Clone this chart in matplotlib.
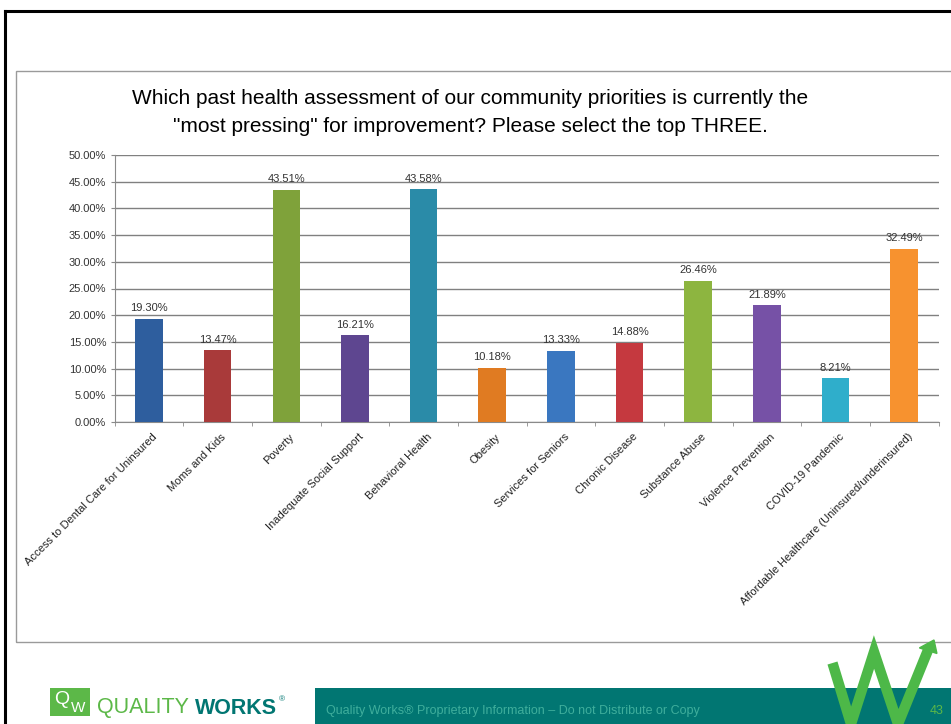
import matplotlib
matplotlib.use("Agg")
import matplotlib.pyplot as plt
from matplotlib import font_manager as fm
from matplotlib.patches import Rectangle, FancyArrow
from matplotlib.lines import Line2D
import matplotlib.transforms as mtransforms
import numpy as np

categories = [
    "Access to Dental Care for Uninsured",
    "Moms and Kids",
    "Poverty",
    "Inadequate Social Support",
    "Behavioral Health",
    "Obesity",
    "Services for Seniors",
    "Chronic Disease",
    "Substance Abuse",
    "Violence Prevention",
    "COVID-19 Pandemic",
    "Affordable Healthcare (Uninsured/underinsured)",
]
values = [19.30, 13.47, 43.51, 16.21, 43.58, 10.18, 13.33, 14.88, 26.46, 21.89, 8.21, 32.49]
colors = ["#2E5E9E", "#A93A3A", "#7FA23A", "#5E4690", "#2A8BA8", "#E07B22",
          "#3A77C0", "#C5393F", "#8DB540", "#7651A6", "#2FAECB", "#F7922F"]
yticks = [0, 5, 10, 15, 20, 25, 30, 35, 40, 45, 50]
title_lines = ["Which past health assessment of our community priorities is currently the",
               "\"most pressing\" for improvement? Please select the top THREE."]

available = {f.name for f in fm.fontManager.ttflist}
narrow = "Liberation Sans Narrow" if "Liberation Sans Narrow" in available else "Liberation Sans"

W, H = 951, 724
fig = plt.figure(figsize=(W / 100, H / 100), dpi=100)
fig.patch.set_facecolor("white")

def fx(x):
    return x / W

def fy(y):
    return 1 - y / H

# slide frame (black)
fig.add_artist(Line2D([fx(5), fx(951)], [fy(11), fy(11)], color="black", lw=2.2, transform=fig.transFigure))
fig.add_artist(Line2D([fx(5), fx(5)], [fy(11), fy(724)], color="black", lw=2.2, transform=fig.transFigure))
# chart area box (gray)
fig.add_artist(Rectangle((fx(16), fy(642)), fx(960) - fx(16), fy(71) - fy(642), transform=fig.transFigure,
                         fill=False, edgecolor="#9a9a9a", lw=1.0))

# axes
left_px, right_px, top_px, bottom_px = 114.6, 938.5, 155, 422
ax = fig.add_axes([fx(left_px), fy(bottom_px), fx(right_px) - fx(left_px), fy(top_px) - fy(bottom_px)])
x = np.arange(len(categories))
bars = ax.bar(x, values, width=0.4, color=colors, zorder=3)
ax.set_xlim(-0.5, len(categories) - 0.5)
ax.set_ylim(0, 50)
ax.set_yticks(yticks)
ax.set_yticklabels([f"{v:.2f}%" for v in yticks], fontsize=8, color="#333333", family="Liberation Sans")
ax.yaxis.grid(True, color="#808080", lw=1.0, zorder=0)
ax.set_axisbelow(True)
for s in ["top", "right"]:
    ax.spines[s].set_visible(False)
ax.spines["left"].set_color("#8a8a8a")
ax.spines["bottom"].set_color("#8a8a8a")
ax.tick_params(axis="y", length=3, color="#8a8a8a", pad=3)
ax.set_xticks(x)
ax.set_xticklabels(categories, rotation=45, ha="right", va="top", rotation_mode="anchor",
                   fontsize=8, color="#222222", family="Liberation Sans")
ax.tick_params(axis="x", length=0, pad=7)
offset = mtransforms.ScaledTranslation(3 / 100, 0, fig.dpi_scale_trans)
for lbl in ax.get_xticklabels():
    lbl.set_transform(lbl.get_transform() + offset)
ax.set_xticks(np.arange(-0.5, len(categories), 1.0), minor=True)
ax.tick_params(axis="x", which="minor", length=3, color="#8a8a8a")

for xi, v in zip(x, values):
    ax.annotate(f"{v:.2f}%", (xi, v), xytext=(0, 4), textcoords="offset points",
                ha="center", va="bottom", fontsize=8, color="#333333", family="Liberation Sans")

# title
fig.text(fx(470), fy(98), title_lines[0], ha="center", va="center", fontsize=15, family=narrow, color="black")
fig.text(fx(470), fy(127), title_lines[1], ha="center", va="center", fontsize=15, family=narrow, color="black")

# footer teal bar
fig.add_artist(Rectangle((fx(315), 0), 1 - fx(315), fy(688), transform=fig.transFigure,
                         facecolor="#017672", edgecolor="none"))
fig.text(fx(326), fy(711), "Quality Works\u00ae Proprietary Information \u2013 Do not Distribute or Copy",
         ha="left", va="center", fontsize=9, family=narrow, color="#3fae9c")
fig.text(fx(937), fy(711), "43", ha="center", va="center", fontsize=9, family=narrow, color="#5cb848")

# W mark
wx = [834, 851, 874, 898, 926]
wy = [668, 724, 652, 724, 655]
fig.add_artist(Line2D([fx(v) for v in wx], [fy(v) for v in wy], color="#4db848", lw=7.5,
                      solid_joinstyle="miter", transform=fig.transFigure))
fig.add_artist(FancyArrow(fx(922), fy(662), fx(934) - fx(922), fy(640) - fy(662), width=0.0,
                          head_width=0.02, head_length=0.016, color="#4db848", transform=fig.transFigure,
                          length_includes_head=True))

# logo
fig.add_artist(Rectangle((fx(50), fy(716)), fx(90) - fx(50), fy(688) - fy(716), transform=fig.transFigure,
                         facecolor="#5cb848", edgecolor="none"))
fig.text(fx(62), fy(700), "Q", ha="center", va="center", fontsize=14, color="white", family="Liberation Sans")
fig.text(fx(78), fy(708), "W", ha="center", va="center", fontsize=11, color="white", family="Liberation Sans")
t1 = fig.text(fx(97), fy(708), "QUALITY ", ha="left", va="center", fontsize=15.5, color="#5cb848", family=narrow)
fig.canvas.draw()
bb = t1.get_window_extent()
t2 = fig.text(bb.x1 / W, fy(708), "WORKS", ha="left", va="center", fontsize=15.5, color="#017672",
              family=narrow, weight="bold")
fig.canvas.draw()
bb2 = t2.get_window_extent()
fig.text(bb2.x1 / W + 0.002, fy(700), "\u00ae", ha="left", va="center", fontsize=6, color="#017672",
         family=narrow)

fig.savefig("out.png", dpi=100, facecolor="white")
